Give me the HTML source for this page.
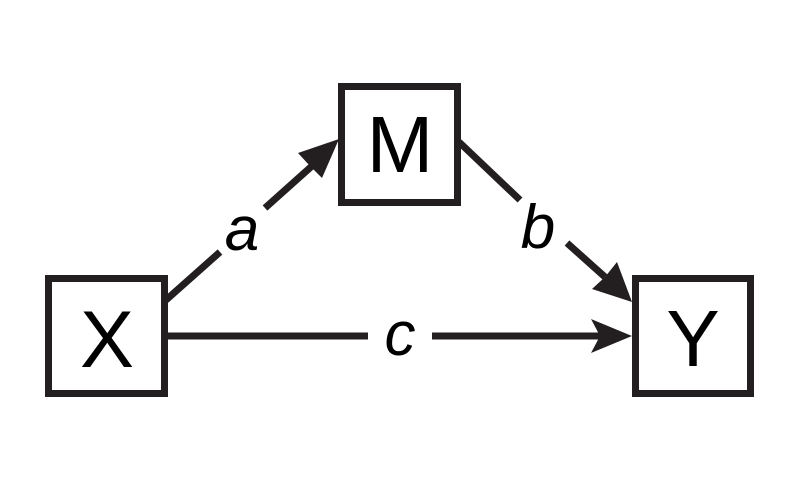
<!DOCTYPE html>
<html><head><meta charset="utf-8"><style>html,body{margin:0;padding:0;background:#fff}</style></head>
<body>
<svg width="800" height="480" viewBox="0 0 800 480" xmlns="http://www.w3.org/2000/svg">
<g fill="none" stroke="#231f20" stroke-width="7">
<rect x="48.5" y="278.5" width="116" height="115"/>
<rect x="341.5" y="86.5" width="116" height="116"/>
<rect x="635.5" y="278.5" width="115" height="115"/>
<line x1="166" y1="300" x2="220" y2="252"/>
<line x1="265" y1="208" x2="312" y2="166"/>
<line x1="166" y1="336" x2="368" y2="336"/>
<line x1="432" y1="336" x2="600" y2="336"/>
<line x1="459" y1="142" x2="520" y2="200"/>
<line x1="567" y1="243" x2="605" y2="277"/>
</g>
<g fill="#231f20">
<polygon points="339,139 298,153 310,166 322,178"/>
<polygon points="632,336 591,319 600,336 591,353"/>
<polygon points="632,302 617,262 605,277 592,289"/>
</g>
<g font-family="Liberation Sans, sans-serif" fill="#000" text-anchor="middle">
<text x="107" y="367" font-size="81">X</text>
<text x="400" y="172" font-size="80">M</text>
<text x="693" y="366" font-size="80">Y</text>
<text x="242" y="250" font-size="62" font-style="italic">a</text>
<text x="538" y="248" font-size="62" font-style="italic">b</text>
<text x="400" y="355" font-size="62" font-style="italic">c</text>
</g>
</svg>
</body></html>
